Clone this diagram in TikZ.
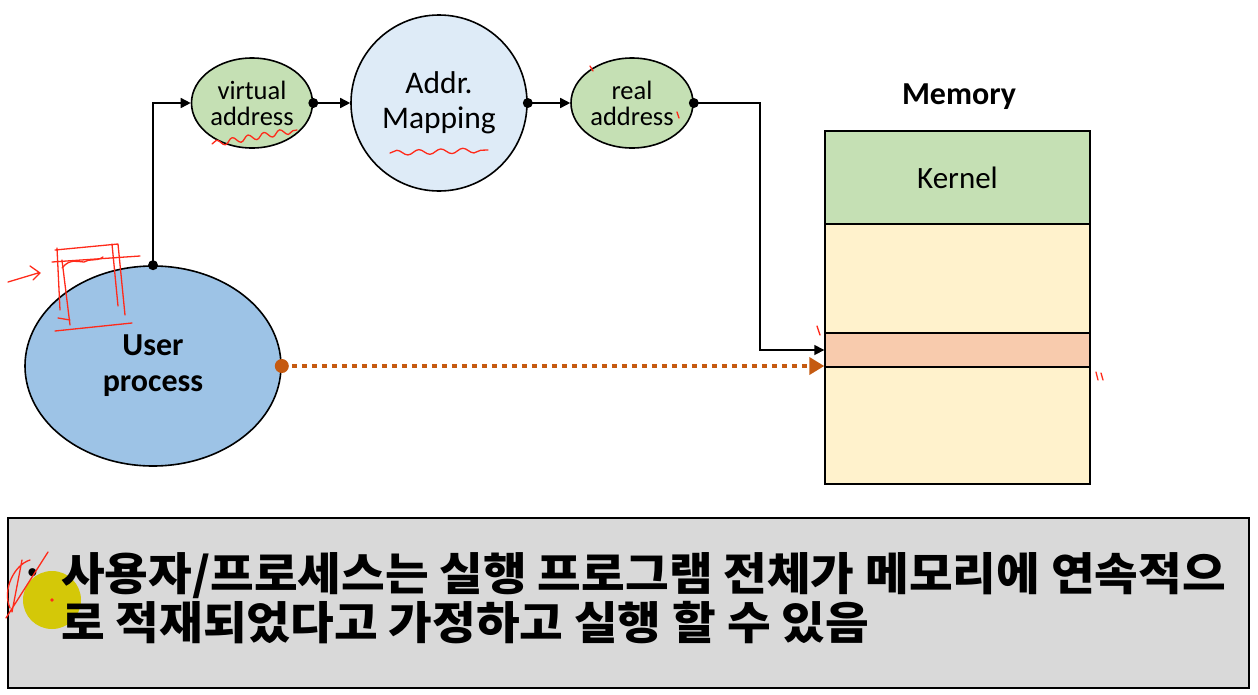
\documentclass[tikz,border=0pt]{standalone}
\usepackage{fontspec}
\setmainfont{Carlito}
\newfontfamily\krfont{Noto Sans CJK KR}[FakeStretch=1.055]
\usetikzlibrary{arrows.meta,shapes.geometric,decorations.pathmorphing}
\definecolor{upblue}{HTML}{9DC3E6}
\definecolor{mapblue}{HTML}{DEEBF7}
\definecolor{lgreen}{HTML}{C5E0B4}
\definecolor{myellow}{HTML}{FFF2CC}
\definecolor{morange}{HTML}{F8CBAD}
\definecolor{dorange}{HTML}{C55A11}
\definecolor{boxgray}{HTML}{D9D9D9}
\definecolor{inkred}{HTML}{FF2A1A}
\definecolor{hlyellow}{HTML}{D4C808}
\tikzset{
  bubble/.style={ellipse, draw=black, line width=1.6pt, inner sep=0pt, align=center},
  conn/.style={line width=1.6pt, -{Triangle[length=10pt,width=10pt]}},
  memcell/.style={draw=black, line width=1.4pt, minimum width=265pt, inner sep=0pt},
  dotconn/.style={dorange, line width=4.5pt, dash pattern=on 5pt off 5pt,
     -{Triangle[length=15pt,width=17pt,fill=dorange]}},
  ink/.style={inkred, line width=1.3pt, line cap=round, line join=round},
  krtext/.style={anchor=base west, inner sep=0pt, font=\krfont\bfseries\fontsize{45pt}{50pt}\selectfont}
}
\begin{document}
\begin{tikzpicture}[x=1pt,y=-1pt]
\useasboundingbox (0,0) rectangle (1258,694);
% ellipses
\node[bubble, fill=lgreen, minimum width=121pt, minimum height=90pt,
      font=\fontsize{26.5pt}{26pt}\selectfont] (va) at (252,103) {virtual\\address};
\node[bubble, fill=mapblue, minimum width=176pt, minimum height=176pt,
      font=\fontsize{31.5pt}{36pt}\selectfont] (mp) at (439,103) {Addr.\\[-1pt]Mapping};
\node[bubble, fill=lgreen, minimum width=122pt, minimum height=90pt,
      font=\fontsize{26.5pt}{26pt}\selectfont] (ra) at (632,103) {real\\address};
\node[bubble, fill=upblue, minimum width=256pt, minimum height=200pt,
      font=\bfseries\fontsize{32pt}{36pt}\selectfont] (up) at (153,366) {User\\process};
% memory
\node[font=\bfseries\fontsize{32pt}{32pt}\selectfont] (memlbl) at (959,97) {Memory};
\node[memcell, fill=lgreen, minimum height=93pt, font=\fontsize{31pt}{31pt}\selectfont] (kern) at (957.5,177.5) {Kernel};
\node[memcell, fill=myellow, minimum height=109pt] (mem1) at (957.5,278.5) {};
\node[memcell, fill=morange, minimum height=34pt] (str) at (957.5,350) {};
\node[memcell, fill=myellow, minimum height=117pt] (mem2) at (957.5,425.5) {};
% connectors
\coordinate (turn) at (760,103);
\coordinate (tgt) at (str.west);
\draw[conn] (up.north) -- (up.north |- va.west) -- (va.west);
\draw[conn] (va.east) -- (mp.west);
\draw[conn] (mp.east) -- (ra.west);
\draw[conn] (ra.east) -- (turn) -- (turn |- tgt) -- (tgt);
\draw[dotconn] (up.east) -- (str.west |- up.east);
\fill (up.north) circle (5pt);
\fill (va.east) circle (5pt);
\fill (mp.east) circle (5pt);
\fill (ra.east) circle (5pt);
\fill[dorange] (up.east) circle (7pt);
% bottom box
\node[draw=black, line width=1.6pt, fill=boxgray, minimum width=1241pt, minimum height=170pt,
      inner sep=0pt] (box) at (628.5,603) {};
\fill[hlyellow] (52,600) circle (29pt);
\fill[inkred] (52,600) circle (1.8pt);
\node[inner sep=0pt, font=\krfont\fontsize{30pt}{30pt}\selectfont] (bul) at (33,575) {•};
\node[krtext] (t1) at (61,590) {사용자/프로세스는 실행 프로그램 전체가 메모리에 연속적으};
\node[krtext] (t2) at (61,639) {로 적재되었다고 가정하고 실행 할 수 있음};
% hand-drawn ink annotations
\draw[ink, decorate, decoration={snake, amplitude=3pt, segment length=16pt}] (212,144) -- (297,130);
\draw[ink, decorate, decoration={snake, amplitude=2.5pt, segment length=22pt}] (390,153) -- (488,150);
\draw[ink] (590,66) -- (593,71);
\draw[ink] (677,112) -- (679,118);
\draw[ink] (55,250) -- (118,244) (52,262) -- (140,256) (57,248) -- (60,310) (62,260) -- (70,325)
  (118,244) -- (125,315) (112,244) -- (118,306) (55,331) -- (132,323) (58,318) -- (70,320);
\draw[ink] (62,268) .. controls (70,258) and (78,262) .. (84,262) .. controls (90,258) and (96,262) .. (103,257);
\draw[ink] (8,282) -- (38,273) (30,266) -- (40,273) -- (33,280);
\draw[ink] (817,326) -- (820,335);
\draw[ink] (1096,372) -- (1098,380) (1101,373) -- (1103,380);
\draw[ink] (10,608) .. controls (2,590) and (14,565) .. (30,560) (48,552) -- (6,618) (22,560) -- (12,612);
\end{tikzpicture}
\end{document}
